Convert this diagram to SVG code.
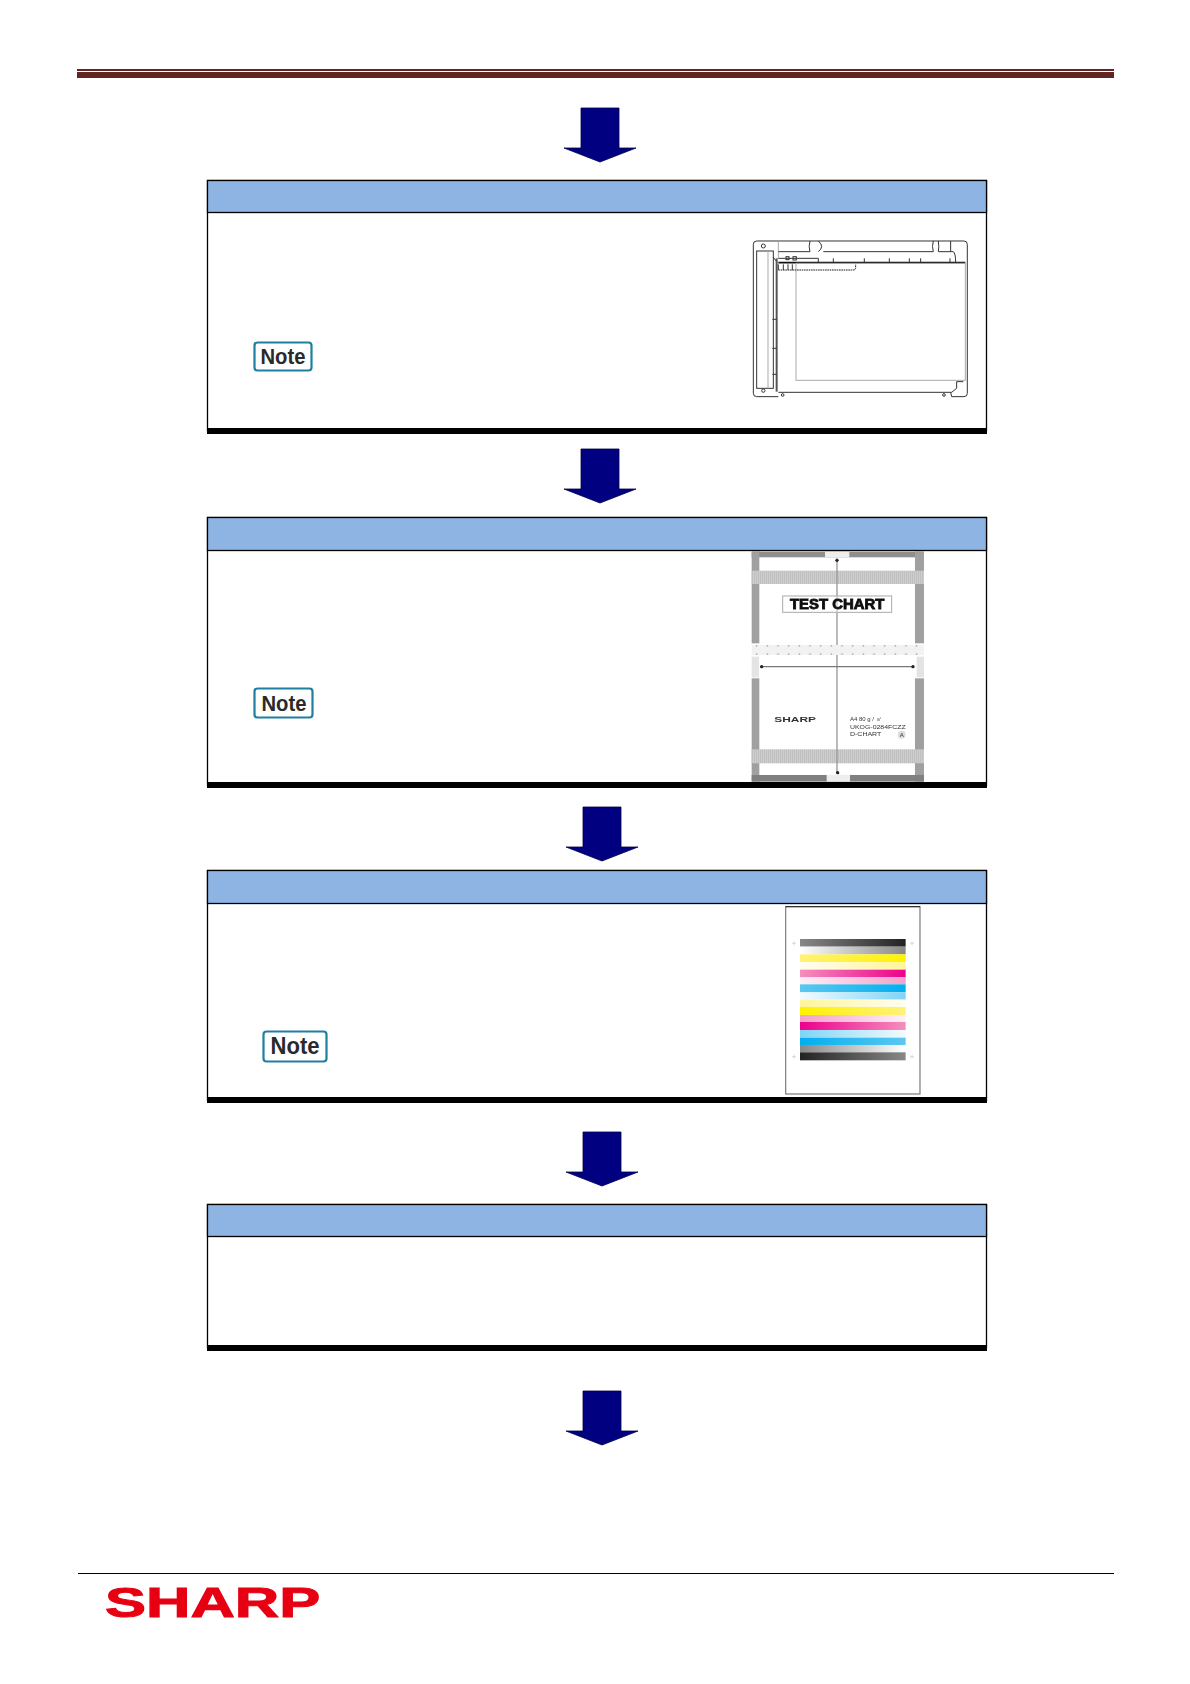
<svg xmlns="http://www.w3.org/2000/svg" width="1190" height="1684" viewBox="0 0 1190 1684">
<style>
.box{fill:#fff;stroke:#000;stroke-width:1.3}
.head{fill:#8eb4e3;stroke:#000;stroke-width:1.3}
.foot{fill:#000}
.arrow{fill:#000080;stroke:#00004a;stroke-width:.8}
.badge{fill:#fff;stroke:#1f7f9f;stroke-width:2.2}
.note{font-family:"Liberation Sans",Arial,sans-serif;font-weight:700;fill:#2a2a2a;text-anchor:middle}
.ln{fill:none;stroke:#333;stroke-width:3}
.gr{fill:none;stroke:#aaa;stroke-width:3}
.thick{fill:none;stroke:#111;stroke-width:5}
.chartt{font-family:"Liberation Sans",Arial,sans-serif;fill:#333}
.bar{stroke:none}
</style>
<defs>
<path id="arr" d="M-19 1H19V41H36L0 55L-36 41H-19Z"/>
<pattern id="hatch" width="6" height="10" patternUnits="userSpaceOnUse"><rect width="6" height="10" fill="#cdcdcd"/><rect width="2" height="10" fill="#bababa"/></pattern>
<pattern id="rule" width="32" height="30" patternUnits="userSpaceOnUse"><rect width="32" height="30" fill="#f2f2f2"/><rect x="14" y="10" width="4" height="10" fill="#aaa"/></pattern>
<filter id="soft" x="-5%" y="-5%" width="110%" height="110%"><feGaussianBlur stdDeviation="1.4"/></filter>
<filter id="softer" x="-5%" y="-5%" width="110%" height="110%"><feGaussianBlur stdDeviation="1"/></filter>
<linearGradient id="kd"><stop offset="0" stop-color="#888"/><stop offset="1" stop-color="#222"/></linearGradient>
<linearGradient id="kl"><stop offset="0" stop-color="#fff"/><stop offset="1" stop-color="#888"/></linearGradient>
<linearGradient id="kr"><stop offset="0" stop-color="#222"/><stop offset="1" stop-color="#888"/></linearGradient>
<linearGradient id="klr"><stop offset="0" stop-color="#888"/><stop offset="1" stop-color="#fff"/></linearGradient>
<linearGradient id="y1"><stop offset="0" stop-color="#fff27a"/><stop offset="1" stop-color="#fff200"/></linearGradient>
<linearGradient id="y2"><stop offset="0" stop-color="#fffef0"/><stop offset="1" stop-color="#fff59a"/></linearGradient>
<linearGradient id="y3"><stop offset="0" stop-color="#fff59a"/><stop offset="1" stop-color="#fffef0"/></linearGradient>
<linearGradient id="y4"><stop offset="0" stop-color="#fff200"/><stop offset="1" stop-color="#fff27a"/></linearGradient>
<linearGradient id="m1"><stop offset="0" stop-color="#f48fbd"/><stop offset="1" stop-color="#ec008c"/></linearGradient>
<linearGradient id="m2"><stop offset="0" stop-color="#fff0f7"/><stop offset="1" stop-color="#f4a0c8"/></linearGradient>
<linearGradient id="m3"><stop offset="0" stop-color="#f4a0c8"/><stop offset="1" stop-color="#fff0f7"/></linearGradient>
<linearGradient id="m4"><stop offset="0" stop-color="#ec008c"/><stop offset="1" stop-color="#f48fbd"/></linearGradient>
<linearGradient id="c1"><stop offset="0" stop-color="#5cc8f0"/><stop offset="1" stop-color="#00aeef"/></linearGradient>
<linearGradient id="c2"><stop offset="0" stop-color="#f2fbff"/><stop offset="1" stop-color="#7fd4f6"/></linearGradient>
<linearGradient id="c3"><stop offset="0" stop-color="#7fd4f6"/><stop offset="1" stop-color="#f2fbff"/></linearGradient>
<linearGradient id="c4"><stop offset="0" stop-color="#00aeef"/><stop offset="1" stop-color="#5cc8f0"/></linearGradient>
</defs>

<g id="header-rule">
<rect x="77" y="69" width="1037" height="2" fill="#622423"/>
<rect x="77" y="72" width="1037" height="6" fill="#622423"/>
</g>

<g id="connectors">
<use href="#arr" class="arrow" transform="translate(600,107)"/>
<use href="#arr" class="arrow" transform="translate(600,448)"/>
<use href="#arr" class="arrow" transform="translate(602,806)"/>
<use href="#arr" class="arrow" transform="translate(602,1131)"/>
<use href="#arr" class="arrow" transform="translate(602,1390)"/>
</g>

<g id="step-1">
<rect class="box" x="207.500" y="180.500" width="779" height="250"/>
<rect class="head" x="207.500" y="180.500" width="779" height="32"/>
<rect class="foot" x="207" y="428" width="780" height="6"/>
<rect class="badge" x="254.500" y="342.500" width="57" height="28" rx="3"/>
<text class="note" x="283" y="364" font-size="22" textLength="45" lengthAdjust="spacingAndGlyphs">Note</text>
<g id="scanner" transform="translate(730,225) scale(.3333)">
<path class="ln" d="M80 48H702Q712 48 712 58V505Q712 515 702 515H665M145 515H80Q70 515 70 505V58Q70 48 80 48"/>
<rect class="ln" x="80" y="78" width="50" height="412"/>
<path class="gr" d="M114 78V490M145 48V100"/>
<path class="ln" d="M145 80H240M280 80H610M625 80H670Q677 85 677 112M240 48Q235 65 240 80M265 48Q285 65 265 80M610 80Q605 65 610 48M625 48Q628 65 625 80M662 48V80"/>
<path class="ln" d="M145 100H265V112M130 97L140 110M310 100V112M403 100V112M478 100V112M538 100V112M572 100V112M660 100V112"/>
<rect class="ln" x="168" y="95" width="9" height="9"/><rect class="ln" x="189" y="95" width="10" height="10"/>
<path class="thick" d="M145 113H706"/>
<path d="M140 100V500" fill="none" stroke="#555" stroke-width="6"/>
<path class="ln" d="M127 283H140M127 370H140M127 448H140"/>
<rect class="gr" x="198" y="115" width="508" height="351"/>
<path d="M145 135H370Q377 135 377 128V118" fill="none" stroke="#222" stroke-width="3" stroke-dasharray="5 2"/>
<path class="ln" d="M145 118V135M160 118V135M174 118V135M187 118V135"/>
<path class="ln" d="M145 502H665L680 490V470M665 515L662 502M680 470H700"/>
<circle class="ln" cx="100" cy="63" r="6"/><circle class="ln" cx="100" cy="497" r="5"/><circle class="ln" cx="158" cy="510" r="4"/><circle class="ln" cx="642" cy="510" r="4"/>
</g>
</g>

<g id="step-2">
<rect class="box" x="207.500" y="517.500" width="779" height="268"/>
<g id="test-chart" transform="translate(730,540) scale(.3333)">
<g filter="url(#soft)">
<rect x="65" y="35" width="517" height="17" fill="#8f8f8f"/>
<rect x="285" y="35" width="73" height="17" fill="#eee"/>
<rect x="65" y="35" width="23" height="275" fill="#a0a0a0"/>
<rect x="555" y="35" width="27" height="275" fill="#a0a0a0"/>
<rect x="65" y="415" width="23" height="310" fill="#a0a0a0"/>
<rect x="555" y="415" width="27" height="310" fill="#a0a0a0"/>
<rect x="65" y="92" width="517" height="40" fill="url(#hatch)"/>
<rect x="65" y="628" width="517" height="42" fill="url(#hatch)"/>
<rect x="65" y="315" width="517" height="30" fill="url(#rule)"/>
<rect x="65" y="350" width="22" height="62" fill="#e4e4e4"/>
<rect x="560" y="350" width="22" height="62" fill="#e4e4e4"/>
<rect x="65" y="705" width="517" height="20" fill="#808080"/>
<rect x="290" y="705" width="70" height="20" fill="#eee"/>
<path d="M321 55V315M321 345V700" stroke="#999" stroke-width="4" fill="none"/>
<path d="M92 380H552" stroke="#777" stroke-width="4"/>
<circle cx="95" cy="380" r="5" fill="#222"/><circle cx="549" cy="380" r="5" fill="#222"/><circle cx="321" cy="61" r="5" fill="#222"/><circle cx="323" cy="698" r="5" fill="#222"/>
</g>
<rect x="158" y="168" width="327" height="49" fill="#fff" stroke="#aaa" stroke-width="3"/>
<path d="M321 168V217" stroke="#bbb" stroke-width="3"/>
<g filter="url(#softer)">
<text class="chartt" x="180" y="208" font-size="42" font-weight="700" textLength="283" lengthAdjust="spacingAndGlyphs" style="fill:#111;stroke:#111;stroke-width:2.500">TEST CHART</text>
<text class="chartt" x="133" y="545" font-size="24" font-weight="700" textLength="125" lengthAdjust="spacingAndGlyphs">SHARP</text>
<text class="chartt" x="360" y="543" font-size="18">A4 80 g / ㎡</text>
<text class="chartt" x="360" y="566" font-size="18" textLength="167" lengthAdjust="spacingAndGlyphs">UKOG-0284FCZZ</text>
<text class="chartt" x="360" y="589" font-size="18" textLength="94" lengthAdjust="spacingAndGlyphs">D-CHART</text>
<circle cx="515" cy="584" r="12" fill="#ddd"/>
<text class="chartt" x="515" y="591" font-size="18" text-anchor="middle">A</text>
</g>
</g>
<rect class="head" x="207.500" y="517.500" width="779" height="33"/>
<rect class="foot" x="207" y="782" width="780" height="6"/>
<rect class="badge" x="254.500" y="688.500" width="58" height="29" rx="3"/>
<text class="note" x="284" y="711" font-size="22" textLength="45" lengthAdjust="spacingAndGlyphs">Note</text>
</g>

<g id="step-3">
<rect class="box" x="207.500" y="870.500" width="779" height="230"/>
<rect class="head" x="207.500" y="870.500" width="779" height="33"/>
<rect class="foot" x="207" y="1097" width="780" height="6"/>
<rect class="badge" x="263.500" y="1031.500" width="63" height="30" rx="3"/>
<text class="note" x="295" y="1054" font-size="23" textLength="49" lengthAdjust="spacingAndGlyphs">Note</text>
<g id="color-chart" transform="translate(770,895) scale(.3333)">
<rect x="47" y="35" width="403" height="562" fill="#fff" stroke="#888" stroke-width="4"/>
<path d="M47 35H450" stroke="#222" stroke-width="3"/>
<rect class="bar" x="90" y="132" width="317" height="23" fill="url(#kd)"/>
<rect class="bar" x="90" y="155" width="317" height="23" fill="url(#kl)"/>
<rect class="bar" x="90" y="178" width="317" height="23" fill="url(#y1)"/>
<rect class="bar" x="90" y="201" width="317" height="23" fill="url(#y2)"/>
<rect class="bar" x="90" y="224" width="317" height="23" fill="url(#m1)"/>
<rect class="bar" x="90" y="247" width="317" height="21" fill="url(#m2)"/>
<rect class="bar" x="90" y="268" width="317" height="24" fill="url(#c1)"/>
<rect class="bar" x="90" y="292" width="317" height="22" fill="url(#c2)"/>
<rect class="bar" x="90" y="314" width="317" height="22" fill="url(#y3)"/>
<rect class="bar" x="90" y="336" width="317" height="24" fill="url(#y4)"/>
<rect class="bar" x="90" y="360" width="317" height="21" fill="url(#m3)"/>
<rect class="bar" x="90" y="381" width="317" height="24" fill="url(#m4)"/>
<rect class="bar" x="90" y="405" width="317" height="23" fill="url(#c3)"/>
<rect class="bar" x="90" y="428" width="317" height="22" fill="url(#c4)"/>
<rect class="bar" x="90" y="450" width="317" height="22" fill="url(#klr)"/>
<rect class="bar" x="90" y="472" width="317" height="24" fill="url(#kr)"/>
<path d="M66 145H78M72 139V151M420 145H432M426 139V151M66 485H78M72 479V491M420 485H432M426 479V491" stroke="#ccc" stroke-width="2"/>
</g>
</g>

<g id="step-4">
<rect class="box" x="207.500" y="1204.500" width="779" height="143"/>
<rect class="head" x="207.500" y="1204.500" width="779" height="32"/>
<rect class="foot" x="207" y="1345" width="780" height="6"/>
</g>

<g id="footer">
<rect x="78" y="1573" width="1036" height="1" fill="#000"/>
<text x="0" y="0" transform="translate(105,1617) scale(1.38,1)" font-family="'Liberation Sans',Arial,sans-serif" font-weight="700" font-size="43" fill="#e60012" stroke="#e60012" stroke-width="1" textLength="156" lengthAdjust="spacingAndGlyphs">SHARP</text>
</g>
</svg>
